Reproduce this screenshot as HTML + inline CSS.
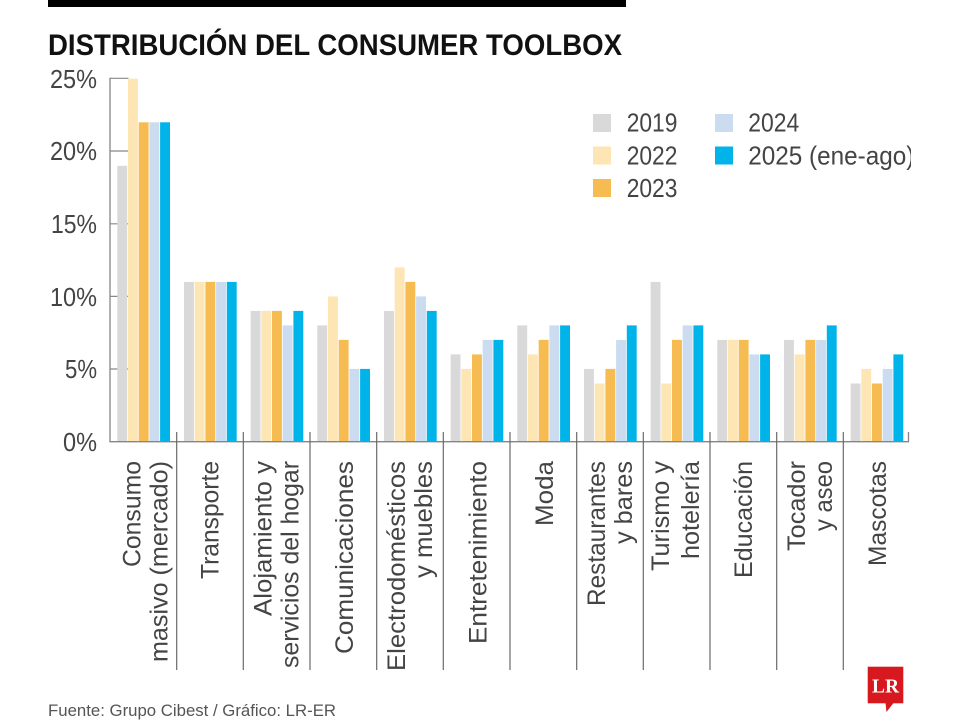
<!DOCTYPE html>
<html>
<head>
<meta charset="utf-8">
<style>
  html,body{margin:0;padding:0;background:#fff;}
  svg{display:block;}
  text{font-family:"Liberation Sans", sans-serif;}
</style>
</head>
<body>
<svg width="960" height="720" viewBox="0 0 960 720" xmlns="http://www.w3.org/2000/svg">
  <rect x="0" y="0" width="960" height="720" fill="#fff"/>
  <!-- top black bar -->
  <rect x="48" y="0" width="578" height="7" fill="#000"/>
  <!-- title -->
  <text x="48" y="55" font-size="30" font-weight="bold" fill="#111" textLength="574" lengthAdjust="spacingAndGlyphs">DISTRIBUCIÓN DEL CONSUMER TOOLBOX</text>

  <!-- y tick labels -->
  <g font-size="26" fill="#444" text-anchor="end">
    <text x="97" y="88" textLength="47" lengthAdjust="spacingAndGlyphs">25%</text>
    <text x="97" y="160" textLength="47" lengthAdjust="spacingAndGlyphs">20%</text>
    <text x="97" y="233" textLength="46" lengthAdjust="spacingAndGlyphs">15%</text>
    <text x="97" y="306" textLength="47" lengthAdjust="spacingAndGlyphs">10%</text>
    <text x="97" y="378" textLength="32" lengthAdjust="spacingAndGlyphs">5%</text>
    <text x="97" y="451" textLength="34" lengthAdjust="spacingAndGlyphs">0%</text>
  </g>

  <!-- y ticks -->
  <g stroke="#888" stroke-width="1.2">
    <line x1="110" y1="78.3" x2="128.5" y2="78.3"/>
    <line x1="110" y1="151" x2="128.5" y2="151"/>
    <line x1="110" y1="223.8" x2="128.5" y2="223.8"/>
    <line x1="110" y1="296.4" x2="128.5" y2="296.4"/>
    <line x1="110" y1="369" x2="128.5" y2="369"/>
  </g>

  <!-- bars 2019 -->
  <g fill="#d9d9d9">
    <rect x="117.3" y="165.8" width="9.9" height="275.7"/>
    <rect x="184.0" y="281.9" width="9.9" height="159.6"/>
    <rect x="250.6" y="310.9" width="9.9" height="130.6"/>
    <rect x="317.3" y="325.4" width="9.9" height="116.1"/>
    <rect x="384.0" y="310.9" width="9.9" height="130.6"/>
    <rect x="450.6" y="354.4" width="9.9" height="87.1"/>
    <rect x="517.3" y="325.4" width="9.9" height="116.1"/>
    <rect x="584.0" y="368.9" width="9.9" height="72.6"/>
    <rect x="650.6" y="281.9" width="9.9" height="159.6"/>
    <rect x="717.3" y="339.9" width="9.9" height="101.6"/>
    <rect x="784.0" y="339.9" width="9.9" height="101.6"/>
    <rect x="850.6" y="383.5" width="9.9" height="58.0"/>
  </g>
  <!-- bars 2022 -->
  <g fill="#fde6b4">
    <rect x="128.0" y="78.7" width="9.9" height="362.8"/>
    <rect x="194.7" y="281.9" width="9.9" height="159.6"/>
    <rect x="261.3" y="310.9" width="9.9" height="130.6"/>
    <rect x="328.0" y="296.4" width="9.9" height="145.1"/>
    <rect x="394.7" y="267.4" width="9.9" height="174.1"/>
    <rect x="461.3" y="368.9" width="9.9" height="72.6"/>
    <rect x="528.0" y="354.4" width="9.9" height="87.1"/>
    <rect x="594.7" y="383.5" width="9.9" height="58.0"/>
    <rect x="661.3" y="383.5" width="9.9" height="58.0"/>
    <rect x="728.0" y="339.9" width="9.9" height="101.6"/>
    <rect x="794.7" y="354.4" width="9.9" height="87.1"/>
    <rect x="861.3" y="368.9" width="9.9" height="72.6"/>
  </g>
  <!-- bars 2023 -->
  <g fill="#f6bc52">
    <rect x="138.7" y="122.3" width="9.9" height="319.2"/>
    <rect x="205.4" y="281.9" width="9.9" height="159.6"/>
    <rect x="272.0" y="310.9" width="9.9" height="130.6"/>
    <rect x="338.7" y="339.9" width="9.9" height="101.6"/>
    <rect x="405.4" y="281.9" width="9.9" height="159.6"/>
    <rect x="472.0" y="354.4" width="9.9" height="87.1"/>
    <rect x="538.7" y="339.9" width="9.9" height="101.6"/>
    <rect x="605.4" y="368.9" width="9.9" height="72.6"/>
    <rect x="672.0" y="339.9" width="9.9" height="101.6"/>
    <rect x="738.7" y="339.9" width="9.9" height="101.6"/>
    <rect x="805.4" y="339.9" width="9.9" height="101.6"/>
    <rect x="872.0" y="383.5" width="9.9" height="58.0"/>
  </g>
  <!-- bars 2024 -->
  <g fill="#cbdcf0">
    <rect x="149.4" y="122.3" width="9.9" height="319.2"/>
    <rect x="216.1" y="281.9" width="9.9" height="159.6"/>
    <rect x="282.7" y="325.4" width="9.9" height="116.1"/>
    <rect x="349.4" y="368.9" width="9.9" height="72.6"/>
    <rect x="416.1" y="296.4" width="9.9" height="145.1"/>
    <rect x="482.7" y="339.9" width="9.9" height="101.6"/>
    <rect x="549.4" y="325.4" width="9.9" height="116.1"/>
    <rect x="616.1" y="339.9" width="9.9" height="101.6"/>
    <rect x="682.7" y="325.4" width="9.9" height="116.1"/>
    <rect x="749.4" y="354.4" width="9.9" height="87.1"/>
    <rect x="816.1" y="339.9" width="9.9" height="101.6"/>
    <rect x="882.7" y="368.9" width="9.9" height="72.6"/>
  </g>
  <!-- bars 2025 -->
  <g fill="#00b4e9">
    <rect x="160.1" y="122.3" width="9.9" height="319.2"/>
    <rect x="226.8" y="281.9" width="9.9" height="159.6"/>
    <rect x="293.4" y="310.9" width="9.9" height="130.6"/>
    <rect x="360.1" y="368.9" width="9.9" height="72.6"/>
    <rect x="426.8" y="310.9" width="9.9" height="130.6"/>
    <rect x="493.4" y="339.9" width="9.9" height="101.6"/>
    <rect x="560.1" y="325.4" width="9.9" height="116.1"/>
    <rect x="626.8" y="325.4" width="9.9" height="116.1"/>
    <rect x="693.4" y="325.4" width="9.9" height="116.1"/>
    <rect x="760.1" y="354.4" width="9.9" height="87.1"/>
    <rect x="826.8" y="325.4" width="9.9" height="116.1"/>
    <rect x="893.4" y="354.4" width="9.9" height="87.1"/>
  </g>

  <!-- axes -->
  <g stroke="#858585" stroke-width="1.3" fill="none">
    <line x1="110" y1="77.7" x2="110" y2="442"/>
    <line x1="109.4" y1="441.7" x2="909" y2="441.7"/>
    <line x1="908.5" y1="432" x2="908.5" y2="442"/>
  </g>
  <!-- group dividers -->
  <g stroke="#6a6a6a" stroke-width="1.2">
    <line x1="176.7" y1="432" x2="176.7" y2="670"/>
    <line x1="243.3" y1="432" x2="243.3" y2="670"/>
    <line x1="310" y1="432" x2="310" y2="670"/>
    <line x1="376.7" y1="432" x2="376.7" y2="670"/>
    <line x1="443.3" y1="432" x2="443.3" y2="670"/>
    <line x1="510" y1="432" x2="510" y2="670"/>
    <line x1="576.7" y1="432" x2="576.7" y2="670"/>
    <line x1="643.3" y1="432" x2="643.3" y2="670"/>
    <line x1="710" y1="432" x2="710" y2="670"/>
    <line x1="776.7" y1="432" x2="776.7" y2="670"/>
    <line x1="843.3" y1="432" x2="843.3" y2="670"/>
  </g>

  <!-- category labels -->
  <g font-size="25" fill="#444" text-anchor="end">
    <text transform="translate(140.3,461) rotate(-90)" textLength="106" lengthAdjust="spacingAndGlyphs">Consumo</text>
    <text transform="translate(167.3,461) rotate(-90)" textLength="201" lengthAdjust="spacingAndGlyphs">masivo (mercado)</text>

    <text transform="translate(218.5,461) rotate(-90)" textLength="118" lengthAdjust="spacingAndGlyphs">Transporte</text>

    <text transform="translate(271.7,461) rotate(-90)" textLength="155" lengthAdjust="spacingAndGlyphs">Alojamiento y</text>
    <text transform="translate(298.7,461) rotate(-90)" textLength="207" lengthAdjust="spacingAndGlyphs">servicios del hogar</text>

    <text transform="translate(353,461) rotate(-90)" textLength="193" lengthAdjust="spacingAndGlyphs">Comunicaciones</text>

    <text transform="translate(405,461) rotate(-90)" textLength="210" lengthAdjust="spacingAndGlyphs">Electrodomésticos</text>
    <text transform="translate(432,461) rotate(-90)" textLength="117" lengthAdjust="spacingAndGlyphs">y muebles</text>

    <text transform="translate(486.5,461) rotate(-90)" textLength="183" lengthAdjust="spacingAndGlyphs">Entretenimiento</text>

    <text transform="translate(553,461) rotate(-90)" textLength="65" lengthAdjust="spacingAndGlyphs">Moda</text>

    <text transform="translate(605,461) rotate(-90)" textLength="145" lengthAdjust="spacingAndGlyphs">Restaurantes</text>
    <text transform="translate(632,461) rotate(-90)" textLength="83" lengthAdjust="spacingAndGlyphs">y bares</text>

    <text transform="translate(669,461) rotate(-90)" textLength="110" lengthAdjust="spacingAndGlyphs">Turismo y</text>
    <text transform="translate(699,461) rotate(-90)" textLength="98" lengthAdjust="spacingAndGlyphs">hotelería</text>

    <text transform="translate(752,461) rotate(-90)" textLength="117" lengthAdjust="spacingAndGlyphs">Educación</text>

    <text transform="translate(805,461) rotate(-90)" textLength="90" lengthAdjust="spacingAndGlyphs">Tocador</text>
    <text transform="translate(832,461) rotate(-90)" textLength="70" lengthAdjust="spacingAndGlyphs">y aseo</text>

    <text transform="translate(886,461) rotate(-90)" textLength="105" lengthAdjust="spacingAndGlyphs">Mascotas</text>
  </g>

  <!-- legend -->
  <defs>
    <clipPath id="lgclip"><rect x="560" y="90" width="351" height="130"/></clipPath>
  </defs>
  <g>
    <rect x="593" y="114" width="18" height="18" fill="#d9d9d9"/>
    <rect x="593" y="146.5" width="18" height="18" fill="#fde6b4"/>
    <rect x="593" y="179" width="18" height="18" fill="#f6bc52"/>
    <rect x="715" y="114" width="18" height="18" fill="#cbdcf0"/>
    <rect x="715" y="146.5" width="18" height="18" fill="#00b4e9"/>
  </g>
  <g font-size="26" fill="#444" clip-path="url(#lgclip)">
    <text x="626.7" y="131.7" textLength="50.7" lengthAdjust="spacingAndGlyphs">2019</text>
    <text x="626.7" y="164.3" textLength="50.7" lengthAdjust="spacingAndGlyphs">2022</text>
    <text x="626.7" y="197" textLength="50.7" lengthAdjust="spacingAndGlyphs">2023</text>
    <text x="748.3" y="131.7" textLength="51" lengthAdjust="spacingAndGlyphs">2024</text>
    <text x="748.3" y="164.3" textLength="166" lengthAdjust="spacingAndGlyphs">2025 (ene-ago)</text>
  </g>

  <!-- footer -->
  <text x="48" y="716" font-size="16.5" fill="#555" textLength="288" lengthAdjust="spacingAndGlyphs">Fuente: Grupo Cibest / Gráfico: LR-ER</text>

  <!-- LR logo -->
  <g>
    <rect x="867.7" y="666.7" width="35.6" height="36.6" fill="#d7191f"/>
    <polygon points="885.5,703 893.5,703 886.5,712" fill="#d7191f"/>
    <text x="885.5" y="692.5" style="font-family:'Liberation Serif', serif; font-weight:bold; font-size:20px;" fill="#fff" text-anchor="middle" textLength="27" lengthAdjust="spacingAndGlyphs">LR</text>
  </g>
</svg>
</body>
</html>
